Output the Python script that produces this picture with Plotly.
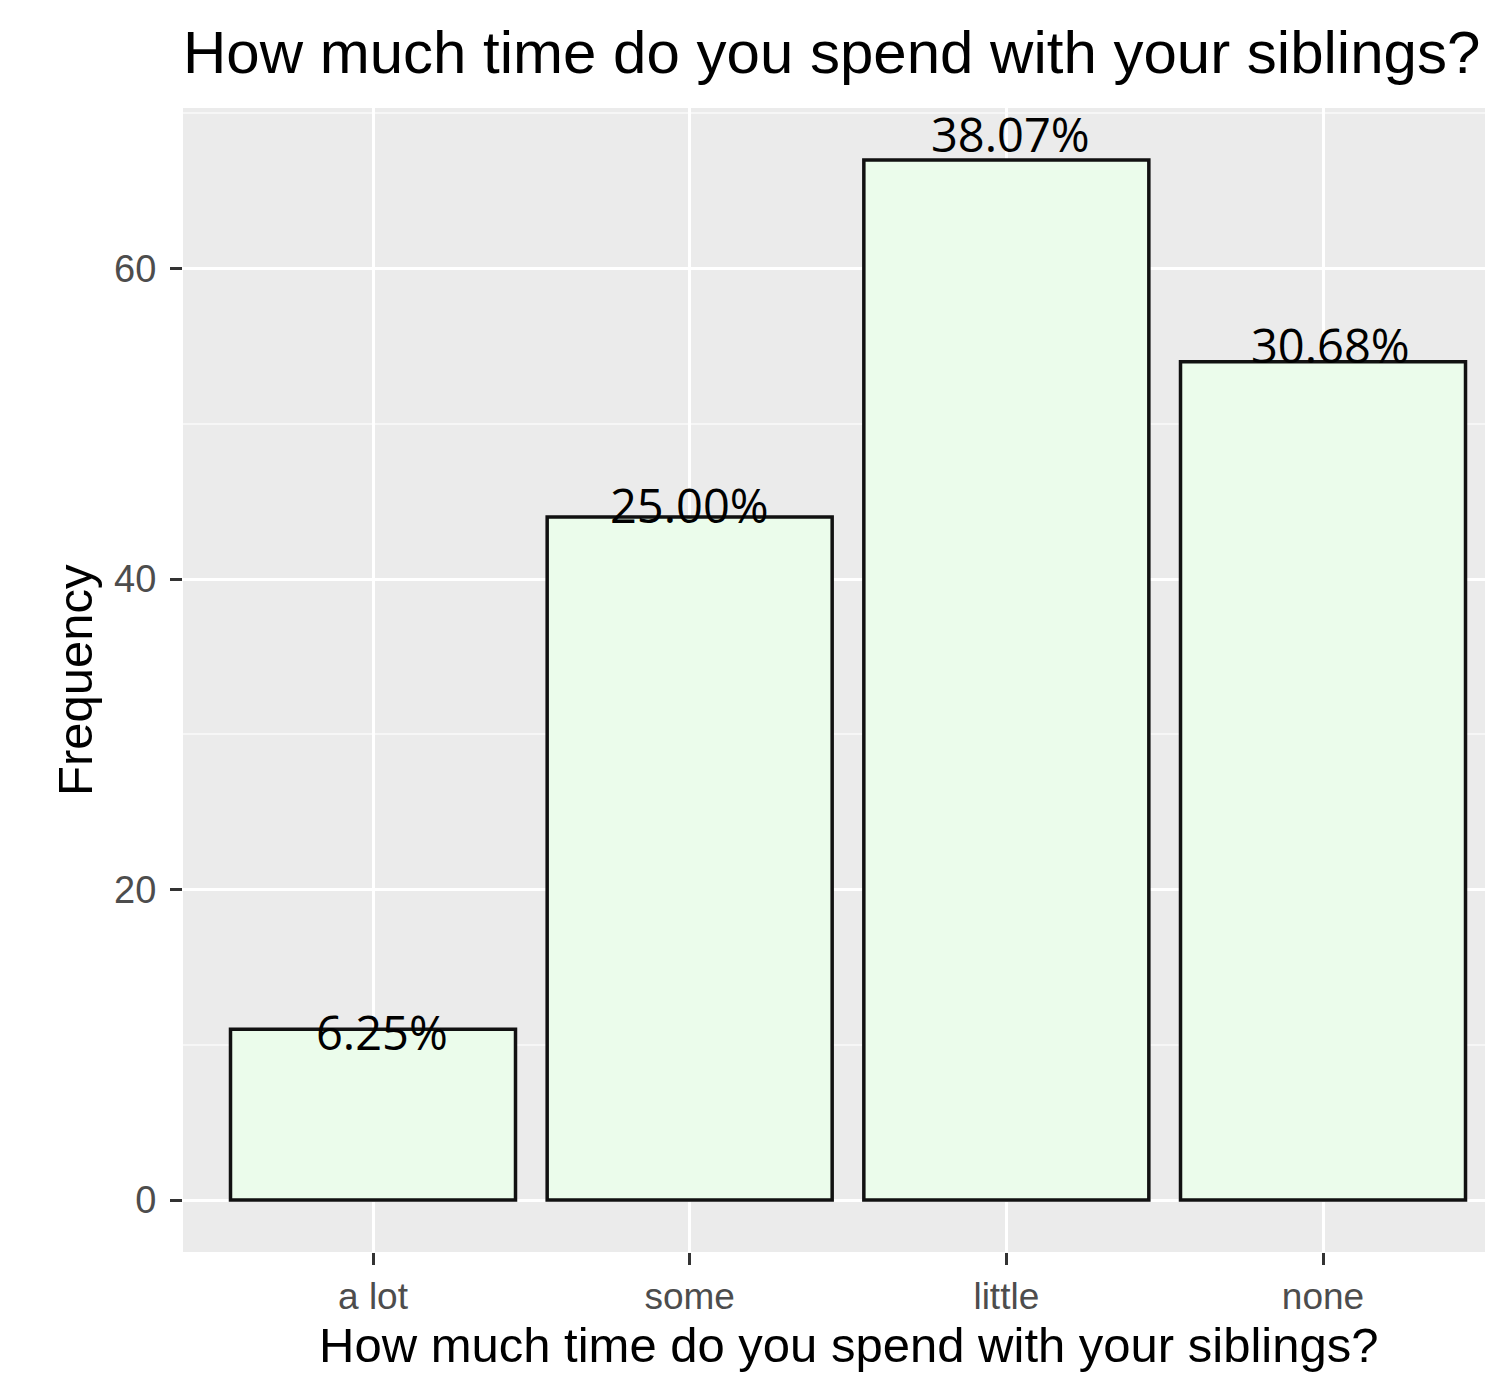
import plotly.graph_objects as go

categories = ["a lot", "some", "little", "none"]
frequency = [11, 44, 67, 54]
y_ticks = [0, 20, 40, 60]

total = sum(frequency)
pct_labels = ["%.2f%%" % (v / total * 100) for v in frequency]

# pixel nudges for the percentage labels (style only)
label_dx = [9, 0, 4, 7]
label_dy = [-3, 12, 26, 17]

# the page body has an 8px margin; compensate so the picture lines up
W, H = 1477, 1367
ML, MR, MT, MB = 175, 0, 100, 123
PLOT_W = W - ML - MR
CAT_PX = 316.67
x_right = -0.6 + PLOT_W / CAT_PX

fig = go.Figure()
fig.add_trace(go.Bar(
    x=categories, y=frequency,
    marker=dict(color="#ebfceb", line=dict(color="#111111", width=3.5)),
    width=0.9,
    hoverinfo="x+y",
))

for c, v, t, dx, dy in zip(categories, frequency, pct_labels, label_dx, label_dy):
    fig.add_annotation(
        x=c, y=v, xref="x", yref="y", text=t, showarrow=False,
        xanchor="center", yanchor="middle", xshift=dx, yshift=dy,
        font=dict(family="Open Sans", size=47, color="black"),
    )

# axis titles as annotations for precise placement
fig.add_annotation(
    x=1.5, xref="x", y=-0.081, yref="paper", yanchor="middle",
    text="How much time do you spend with your siblings?", showarrow=False,
    font=dict(family="Liberation Sans", size=49, color="black"),
)
fig.add_annotation(
    x=-0.083, xref="paper", y=0.5, yref="paper", xanchor="center", yanchor="middle",
    text="Frequency", textangle=-90, showarrow=False,
    font=dict(family="Liberation Sans", size=49, color="black"),
)

fig.update_layout(
    width=W, height=H,
    margin=dict(l=ML, r=MR, t=MT, b=MB, pad=0),
    paper_bgcolor="white",
    plot_bgcolor="#ebebeb",
    showlegend=False,
    bargap=0.1,
    title=dict(
        text="How much time do you spend with your siblings?",
        x=ML / W, xref="container", xanchor="left",
        y=1 - 44 / H, yref="container", yanchor="middle",
        font=dict(family="Liberation Sans", size=60, color="black"),
    ),
)

fig.update_xaxes(
    type="category", categoryorder="array", categoryarray=categories,
    range=[-0.6, x_right],
    showgrid=True, gridcolor="white", gridwidth=3,
    ticks="outside", ticklen=12, tickwidth=3, tickcolor="#333333",
    tickfont=dict(family="Liberation Sans", size=37, color="#4d4d4d"),
    ticklabelstandoff=0,
    showline=False, zeroline=False,
)
fig.update_yaxes(
    range=[-3.35, 70.35],
    tickmode="array", tickvals=y_ticks, ticktext=[str(v) for v in y_ticks],
    showgrid=True, gridcolor="white", gridwidth=3,
    minor=dict(tickmode="linear", tick0=10, dtick=20, showgrid=True,
               gridcolor="#f6f6f6", gridwidth=1.5, ticks=""),
    ticks="outside", ticklen=12, tickwidth=3, tickcolor="#333333",
    tickfont=dict(family="Liberation Sans", size=38, color="#4d4d4d"),
    ticklabelstandoff=6,
    showline=False, zeroline=False,
)

fig.write_html("out.html")
